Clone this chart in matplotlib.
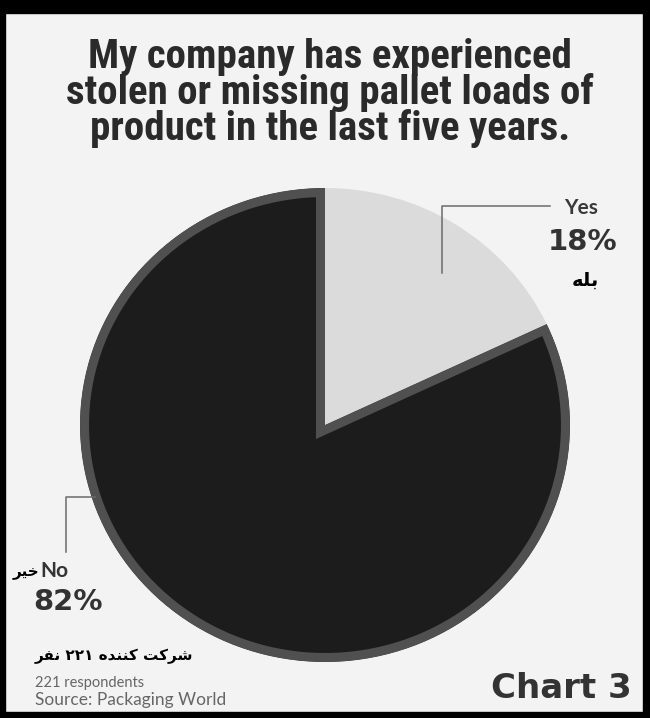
import matplotlib
matplotlib.use("Agg")
import matplotlib.pyplot as plt
from matplotlib import font_manager
from matplotlib.patches import Rectangle

# survey answers, percent of respondents
answers = ["Yes", "No"]
shares = [18, 82]
answers_fa = ["\uFEEA\uFEE0\uFE91", "\uFEAE\uFEF4\uFEA7"]  # بله / خیر, pre-shaped, visual order
respondents = 221

title_lines = [
    "My company has experienced",
    "stolen or missing pallet loads of",
    "product in the last five years.",
]
respondents_fa = ("\uFEAE\uFED4\uFEE7 \u06F2\u06F2\u06F1 "
                  "\uFEE9\uFEAA\uFEE8\uFEE8\uFB90 \uFE96\uFB90\uFEAE\uFEB7")
source = "Source: Packaging World"
chart_no = "Chart 3"

W, H = 650, 718
fig = plt.figure(figsize=(W / 100, H / 100), dpi=100)
fig.patch.set_facecolor("#f3f3f3")

installed = {f.name for f in font_manager.fontManager.ttflist}
title_font = next((f for f in ["Roboto Condensed", "Liberation Sans Narrow",
                               "DejaVu Sans Condensed"] if f in installed), "DejaVu Sans")
label_font = "Lato" if "Lato" in installed else "DejaVu Sans"

# background + black frame, pixel coordinates
bg = fig.add_axes([0, 0, 1, 1], zorder=0)
bg.set_xlim(0, W)
bg.set_ylim(H, 0)
bg.axis("off")
bg.add_patch(Rectangle((0, 0), W, 13, color="black"))
bg.add_patch(Rectangle((0, 0), 5, H, color="black"))
bg.add_patch(Rectangle((643, 0), 7, H, color="black"))
bg.add_patch(Rectangle((0, 712), W, 6, color="black"))

# pie, slightly wider than tall
cx, cy, rx, ry = 325, 425, 245, 237
pax = fig.add_axes([(cx - rx) / W, 1 - (cy + ry) / H, 2 * rx / W, 2 * ry / H], zorder=1)
wedges, _ = pax.pie(shares, startangle=90, counterclock=False,
                    colors=["#dbdbdb", "#1c1c1c"], radius=1.0)
pax.set_aspect("auto")
pax.set_xlim(-1, 1)
pax.set_ylim(-1, 1)
pax.axis("off")

# grey rim on the dark slice, kept inside the slice
dark = wedges[1]
dark.set_edgecolor("#505050")
dark.set_linewidth(13)
dark.set_clip_on(True)
dark.set_clip_path(dark)

# labels and leader lines on top
ov = fig.add_axes([0, 0, 1, 1], zorder=2)
ov.set_xlim(0, W)
ov.set_ylim(H, 0)
ov.axis("off")
ov.patch.set_alpha(0)

tsize = 29.5 if title_font != "DejaVu Sans" else 23
for i, line in enumerate(title_lines):
    ov.text(330, 68 + 36 * i, line, ha="center", va="baseline", fontsize=tsize,
            fontweight="bold", family=title_font, color="#2a2a2a")

lc = "#6a6a6a"
ov.plot([442, 442, 550], [273, 206, 206], color=lc, lw=1.1)
ov.plot([66, 66, 95], [552, 497, 497], color=lc, lw=1.1)

ov.text(598, 214, answers[0], ha="right", va="baseline", fontsize=15,
        fontweight="bold", family=label_font, color="#3a3a3a")
ov.text(617, 250, f"{shares[0]}%", ha="right", va="baseline", fontsize=21,
        fontweight="bold", family="DejaVu Sans", color="#333333")
ov.text(585, 280, answers_fa[0], ha="center", va="center", fontsize=14,
        fontweight="bold", family="DejaVu Sans", color="black")

ov.text(40, 577, answers[1], ha="left", va="baseline", fontsize=15,
        fontweight="bold", family=label_font, color="#333333")
ov.text(39, 572, answers_fa[1], ha="right", va="center", fontsize=11,
        fontweight="bold", family="DejaVu Sans", color="black")
ov.text(33, 610, f"{shares[1]}%", ha="left", va="baseline", fontsize=21,
        fontweight="bold", family="DejaVu Sans", color="#333333")

ov.text(35, 656, respondents_fa, ha="left", va="center", fontsize=11,
        fontweight="bold", family="DejaVu Sans", color="black")
ov.text(35, 687, f"{respondents} respondents", ha="left", va="baseline",
        fontsize=10.5, family=label_font, color="#666666")
ov.text(35, 705, source, ha="left", va="baseline", fontsize=12.5,
        family=label_font, color="#666666")
ov.text(632, 698, chart_no, ha="right", va="baseline", fontsize=24.5,
        fontweight="bold", family="DejaVu Sans", color="#333333")

fig.savefig("out.png", dpi=100, facecolor=fig.get_facecolor())
